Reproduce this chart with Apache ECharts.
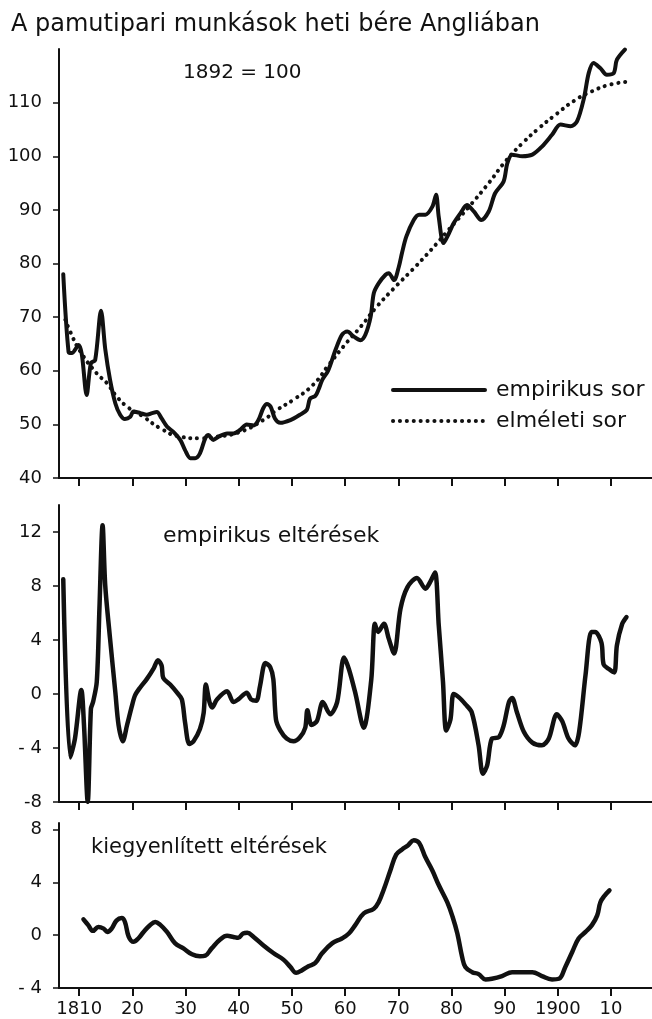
<!DOCTYPE html>
<html>
<head>
<meta charset="utf-8">
<script src="https://cdn.jsdelivr.net/npm/echarts@6/dist/echarts.min.js"></script>
<style>
  html, body { margin: 0; padding: 0; background: #fff; }
  #main { width: 652px; height: 1019px; }
</style>
</head>
<body>
<div id="main"></div>
<script>
// --- adatok (leolvasva az ábráról) ---
var tickYears = [1810, 1820, 1830, 1840, 1850, 1860, 1870, 1880, 1890, 1900, 1910]
var yearLabels = ['1810', '20', '30', '40', '50', '60', '70', '80', '90', '1900', '10']

var wageTicks = [40, 50, 60, 70, 80, 90, 100, 110]
var wageLabels = ['40', '50', '60', '70', '80', '90', '100', '110']
var devTicks = [-8, -4, 0, 4, 8, 12]
var devLabels = ['-8', '- 4', '0', '4', '8', '12']
var smoothTicks = [-4, 0, 4, 8]
var smoothLabels = ['- 4', '0', '4', '8']

// empirikus sor
var empYears = [1807.0, 1808.0, 1808.6, 1809.9, 1810.5, 1811.4, 1812.2, 1813.0, 1814.1, 1814.9,
  1815.8, 1816.8, 1817.7, 1818.6, 1819.6, 1820.2, 1821.5, 1822.7, 1823.7, 1824.6,
  1825.5, 1826.5, 1827.7, 1829.0, 1829.9, 1830.9, 1831.8, 1832.7, 1833.7, 1834.3,
  1835.2, 1836.2, 1837.8, 1839.0, 1840.3, 1841.5, 1842.8, 1843.7, 1844.6, 1845.3,
  1846.0, 1846.8, 1847.8, 1849.7, 1851.5, 1852.8, 1853.4, 1854.4, 1855.0, 1855.7,
  1856.8, 1858.2, 1859.4, 1860.4, 1861.6, 1862.9, 1863.8, 1864.8, 1865.4, 1866.3,
  1867.6, 1868.2, 1869.2, 1870.1, 1870.7, 1871.5, 1872.9, 1873.9, 1875.1, 1876.4,
  1877.1, 1877.6, 1878.5, 1879.5, 1880.4, 1881.7, 1882.9, 1884.2, 1885.6, 1887.0,
  1888.2, 1889.8, 1890.5, 1891.4, 1893.3, 1895.2, 1897.0, 1898.9, 1900.5, 1902.4,
  1903.6, 1904.9, 1905.8, 1906.7, 1908.0, 1909.2, 1910.5, 1911.1, 1912.6]
var empValues = [78.0, 63.5, 63.3, 64.8, 63.0, 55.5, 61.4, 62.0, 71.2, 64.0,
  58.3, 53.9, 51.8, 51.0, 51.4, 52.4, 52.1, 51.8, 52.1, 52.3,
  51.1, 49.6, 48.6, 47.1, 45.2, 43.7, 43.7, 44.6, 47.4, 48.0,
  47.1, 47.7, 48.3, 48.3, 49.0, 50.0, 49.8, 50.8, 53.0, 53.8,
  53.3, 51.1, 50.3, 50.8, 51.8, 52.7, 54.8, 55.3, 56.5, 58.3,
  60.0, 63.9, 66.7, 67.3, 66.4, 65.7, 66.7, 70.1, 74.5, 76.3,
  77.9, 78.2, 76.9, 79.4, 82.0, 85.0, 88.1, 89.1, 89.1, 90.6,
  92.8, 88.7, 83.8, 85.6, 87.5, 89.4, 90.9, 89.7, 88.1, 89.7,
  93.1, 95.3, 98.7, 100.3, 100.0, 100.3, 101.8, 104.0, 105.9, 105.6,
  106.5, 110.8, 115.5, 117.4, 116.4, 115.2, 115.5, 118.0, 119.9]

// elméleti sor
var theoYears = [1807.4, 1808.3, 1810.2, 1813.3, 1815.2, 1816.8, 1819.0, 1822.1, 1825.2, 1829.0,
  1832.7, 1835.9, 1840.3, 1844.6, 1847.2, 1850.3, 1854.0, 1857.0, 1860.0, 1863.0,
  1866.0, 1869.5, 1873.2, 1877.3, 1879.2, 1883.3, 1887.0, 1890.1, 1893.3, 1896.4,
  1899.5, 1903.3, 1906.4, 1909.6, 1913.0]
var theoValues = [69.5, 67.3, 63.6, 59.5, 57.7, 55.5, 53.3, 51.4, 49.3, 47.7,
  47.4, 47.7, 48.6, 50.8, 52.7, 54.6, 57.4, 61.2, 64.9, 68.3,
  72.0, 75.7, 79.4, 83.8, 86.0, 90.6, 95.0, 99.0, 102.4, 105.2,
  107.7, 110.5, 112.1, 113.3, 113.9]

// empirikus eltérések
var devYears = [1807.0, 1808.3, 1809.2, 1810.4, 1810.9, 1811.6, 1812.2, 1812.6, 1813.3, 1813.8,
  1814.4, 1814.9, 1815.8, 1816.8, 1817.4, 1818.2, 1819.0, 1819.9, 1820.5, 1821.5,
  1822.7, 1824.0, 1824.8, 1825.5, 1825.8, 1827.1, 1828.4, 1829.3, 1829.9, 1830.7,
  1831.5, 1832.7, 1833.4, 1833.8, 1834.5, 1835.0, 1835.9, 1837.8, 1839.0, 1839.9,
  1841.5, 1842.3, 1843.3, 1844.0, 1845.0, 1845.9, 1846.5, 1847.0, 1847.8, 1849.0,
  1850.3, 1851.5, 1852.5, 1852.9, 1853.7, 1854.7, 1855.8, 1857.2, 1858.5, 1859.8,
  1860.7, 1861.9, 1863.5, 1864.9, 1865.6, 1866.2, 1867.3, 1868.2, 1869.2, 1870.4,
  1871.7, 1873.5, 1875.1, 1876.0, 1876.9, 1877.6, 1878.4, 1879.0, 1879.8, 1880.4,
  1881.4, 1882.6, 1883.8, 1885.1, 1885.9, 1886.7, 1887.6, 1888.9, 1889.8, 1890.8,
  1891.4, 1892.3, 1893.6, 1895.2, 1897.0, 1898.3, 1899.8, 1900.8, 1902.0, 1903.2,
  1904.0, 1905.2, 1906.3, 1907.0, 1908.2, 1908.6, 1909.6, 1910.6, 1911.1, 1912.1, 1912.9]
var devValues = [8.5, -4.7, -3.3, 0.3, -2.3, -8.0, -1.1, -0.6, 0.9, 6.3,
  12.5, 8.0, 4.1, 0.1, -2.3, -3.5, -2.3, -0.9, -0.1, 0.5,
  1.1, 1.9, 2.5, 2.1, 1.2, 0.7, 0.1, -0.4, -2.1, -3.7,
  -3.5, -2.6, -1.4, 0.7, -0.6, -1.0, -0.4, 0.2, -0.6, -0.4,
  0.1, -0.4, -0.5, 0.6, 2.3, 2.0, 1.1, -1.9, -2.7, -3.3,
  -3.5, -3.2, -2.5, -1.2, -2.3, -2.0, -0.6, -1.5, -0.6, 2.7,
  1.85, 0.1, -2.5, 1.0, 5.2, 4.6, 5.2, 4.1, 3.0, 6.3,
  7.9, 8.6, 7.8, 8.3, 9.0, 5.1, 0.9, -2.7, -1.9, 0.0,
  -0.25, -0.75, -1.35, -3.8, -5.9, -5.3, -3.3, -3.2, -2.35, -0.6,
  -0.3, -1.35, -2.8, -3.6, -3.8, -3.3, -1.5, -2.0, -3.3, -3.8,
  -2.8, 1.4, 4.6, 4.6, 3.8, 2.2, 1.85, 1.6, 3.6, 5.2, 5.7]

// kiegyenlített eltérések
var smYears = [1810.8, 1811.7, 1812.6, 1813.6, 1814.6, 1815.3, 1816.1, 1817.0, 1818.0, 1818.6,
  1819.3, 1820.2, 1821.1, 1822.1, 1823.3, 1824.3, 1825.2, 1826.5, 1828.0, 1829.6,
  1831.2, 1832.7, 1833.7, 1834.9, 1836.5, 1837.8, 1839.0, 1839.9, 1840.8, 1841.6,
  1842.8, 1844.6, 1846.5, 1848.4, 1849.7, 1850.8, 1851.9, 1853.1, 1854.4, 1855.7,
  1857.6, 1859.4, 1860.7, 1861.9, 1863.5, 1865.4, 1866.3, 1867.3, 1868.5, 1869.6,
  1870.7, 1871.8, 1872.9, 1873.9, 1875.1, 1876.4, 1877.6, 1879.2, 1880.2, 1881.1,
  1882.0, 1882.6, 1883.9, 1885.1, 1886.4, 1887.6, 1889.5, 1891.4, 1893.3, 1895.2,
  1897.0, 1898.9, 1900.2, 1901.4, 1902.7, 1903.9, 1905.2, 1906.4, 1907.4, 1908.0,
  1908.8, 1909.7]
var smValues = [1.2, 0.76, 0.33, 0.63, 0.5, 0.25, 0.5, 1.1, 1.3, 1.0,
  -0.1, -0.5, -0.25, 0.25, 0.76, 1.0, 0.8, 0.25, -0.6, -1.0,
  -1.45, -1.6, -1.55, -1.0, -0.33, -0.05, -0.13, -0.2, 0.13, 0.18,
  -0.13, -0.76, -1.35, -1.85, -2.4, -2.85, -2.65, -2.35, -2.1, -1.35,
  -0.6, -0.25, 0.13, 0.76, 1.65, 2.0, 2.5, 3.5, 4.9, 6.1,
  6.5, 6.8, 7.2, 7.0, 5.9, 4.9, 3.8, 2.5, 1.4, 0.13,
  -1.65, -2.4, -2.8, -2.95, -3.35, -3.3, -3.1, -2.8, -2.8, -2.8,
  -3.1, -3.35, -3.3, -2.4, -1.27, -0.25, 0.25, 0.76, 1.5, 2.5,
  3.0, 3.4]

function pairs (xs, ys) {
  var out = []
  for (var i = 0; i < xs.length; i++) out.push([xs[i], ys[i]])
  return out
}

var FONT = 'DejaVu Sans'
var BLACK = '#111'

function xAxisFor (idx, withLabels) {
  return {
    type: 'value',
    gridIndex: idx,
    min: 1806.2,
    max: 1917.7,
    position: 'bottom',
    splitLine: { show: false },
    axisLine: { show: true, onZero: false, lineStyle: { color: BLACK, width: 2 } },
    axisTick: { show: true, customValues: tickYears, length: 8, lineStyle: { color: BLACK, width: 2 } },
    axisLabel: {
      show: withLabels,
      customValues: tickYears,
      margin: 12,
      color: BLACK,
      fontFamily: FONT,
      fontSize: 18,
      formatter: function (v) {
        var i = tickYears.indexOf(Math.round(v))
        return i >= 0 ? yearLabels[i] : ''
      }
    }
  }
}

function yAxisFor (idx, min, max, ticks, labels) {
  return {
    type: 'value',
    gridIndex: idx,
    min: min,
    max: max,
    splitLine: { show: false },
    axisLine: { show: true, onZero: false, lineStyle: { color: BLACK, width: 2 } },
    axisTick: { show: true, customValues: ticks, length: 6, lineStyle: { color: BLACK, width: 1.5 } },
    axisLabel: {
      customValues: ticks,
      margin: 17,
      color: BLACK,
      fontFamily: FONT,
      fontSize: 18,
      formatter: function (v) {
        var i = ticks.indexOf(Math.round(v))
        return i >= 0 ? labels[i] : ''
      }
    }
  }
}

var chart = echarts.init(document.getElementById('main'))
var option = {
  animation: false,
  backgroundColor: '#fff',
  textStyle: { fontFamily: FONT, color: BLACK },
  title: [
    { text: 'A pamutipari munkások heti bére Angliában', left: 6, top: 8,
      textStyle: { fontFamily: FONT, fontSize: 24, fontWeight: 'normal', color: BLACK } },
    { text: '1892 = 100', left: 178, top: 58,
      textStyle: { fontFamily: FONT, fontSize: 20, fontWeight: 'normal', color: BLACK } },
    { text: 'empirikus eltérések', left: 158, top: 520,
      textStyle: { fontFamily: FONT, fontSize: 22, fontWeight: 'normal', color: BLACK } },
    { text: 'kiegyenlített eltérések', left: 86, top: 832,
      textStyle: { fontFamily: FONT, fontSize: 21, fontWeight: 'normal', color: BLACK } }
  ],
  legend: {
    data: [
      { name: 'empirikus sor', lineStyle: { width: 4, type: 'solid', color: BLACK } },
      { name: 'elméleti sor', lineStyle: { width: 4, type: [0.1, 6.8], cap: 'round', color: BLACK } }
    ],
    orient: 'vertical',
    left: 386,
    top: 374,
    itemWidth: 92,
    itemHeight: 14,
    itemGap: 9,
    itemStyle: { opacity: 0 },
    textStyle: { fontFamily: FONT, fontSize: 22, color: BLACK, padding: [0, 0, 0, 6] }
  },
  grid: [
    { left: 59, right: 0, top: 49, height: 429 },
    { left: 59, right: 0, top: 505, height: 297 },
    { left: 59, right: 0, top: 823, height: 165 }
  ],
  xAxis: [xAxisFor(0, false), xAxisFor(1, false), xAxisFor(2, true)],
  yAxis: [
    yAxisFor(0, 40, 120, wageTicks, wageLabels),
    yAxisFor(1, -8, 14, devTicks, devLabels),
    yAxisFor(2, -4, 8.5, smoothTicks, smoothLabels)
  ],
  series: [
    {
      name: 'empirikus sor', type: 'line', xAxisIndex: 0, yAxisIndex: 0,
      data: pairs(empYears, empValues), smooth: 0.3, symbol: 'none',
      itemStyle: { color: BLACK },
      lineStyle: { color: BLACK, width: 4, cap: 'round', join: 'round' }
    },
    {
      name: 'elméleti sor', type: 'line', xAxisIndex: 0, yAxisIndex: 0,
      data: pairs(theoYears, theoValues), smooth: 0.5, symbol: 'none',
      itemStyle: { color: BLACK },
      lineStyle: { color: BLACK, width: 4, type: [0.1, 6.8], cap: 'round' }
    },
    {
      name: 'empirikus eltérések', type: 'line', xAxisIndex: 1, yAxisIndex: 1,
      data: pairs(devYears, devValues), smooth: 0.3, symbol: 'none',
      lineStyle: { color: BLACK, width: 4.5, cap: 'round', join: 'round' }
    },
    {
      name: 'kiegyenlített eltérések', type: 'line', xAxisIndex: 2, yAxisIndex: 2,
      data: pairs(smYears, smValues), smooth: 0.4, symbol: 'none',
      lineStyle: { color: BLACK, width: 4.5, cap: 'round', join: 'round' }
    }
  ]
}
chart.setOption(option)
</script>
</body>
</html>
